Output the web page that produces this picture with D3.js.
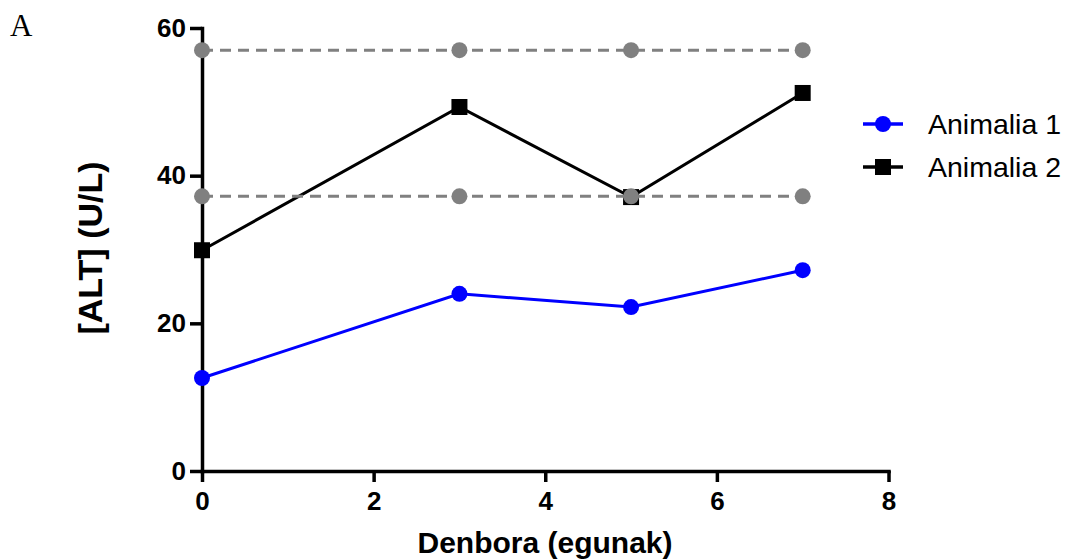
<!DOCTYPE html>
<html>
<head>
<meta charset="utf-8">
<script src="https://cdn.jsdelivr.net/npm/d3@7"></script>
<style>
  body { margin: 0; background: #fff; }
  svg { display: block; }
  .tick text { font-family: "Liberation Sans", Arial, sans-serif; font-weight: bold; font-size: 26px; fill: #000; }
</style>
</head>
<body>
<svg id="chart" width="1069" height="559"></svg>
<script>
// data
const days = [0, 3, 5, 7];
const animal1 = [12.6, 24.0, 22.2, 27.2];
const animal2 = [29.9, 49.3, 37.1, 51.2];
const refHigh = [57, 57, 57, 57];
const refLow = [37.2, 37.2, 37.2, 37.2];
const xTicks = [0, 2, 4, 6, 8];
const yTicks = [0, 20, 40, 60];
const seriesNames = ['Animalia 1', 'Animalia 2'];

const svg = d3.select('#chart');
const margin = { top: 28, left: 202 };
const width = 686.5, height = 443;

const x = d3.scaleLinear().domain([0, 8]).range([0, width]);
const y = d3.scaleLinear().domain([0, 60]).range([height, 0]);

const g = svg.append('g').attr('transform', `translate(${margin.left}, ${margin.top})`);

// panel letter
svg.append('text')
  .attr('x', 10).attr('y', 36)
  .attr('font-family', '"Liberation Serif", "Times New Roman", serif')
  .attr('font-size', 31)
  .text('A');

// axes
const xAxis = g.append('g')
  .attr('transform', `translate(0, ${height})`)
  .call(d3.axisBottom(x).tickValues(xTicks).tickSize(11).tickPadding(10).tickSizeOuter(0));
const yAxis = g.append('g')
  .call(d3.axisLeft(y).tickValues(yTicks).tickSize(12).tickPadding(4).tickSizeOuter(0));

[xAxis, yAxis].forEach((ax) => {
  ax.select('.domain').attr('stroke', '#000').attr('stroke-width', 3.5).attr('stroke-linecap', 'square');
  ax.selectAll('.tick line').attr('stroke', '#000').attr('stroke-width', 3.5);
});

const line = d3.line()
  .x((d, i) => x(days[i]))
  .y((d) => y(d));

// Animalia 1
g.append('path')
  .datum(animal1)
  .attr('fill', 'none')
  .attr('stroke', '#0000ff')
  .attr('stroke-width', 3)
  .attr('d', line);
g.selectAll('.dot1')
  .data(animal1)
  .enter().append('circle')
  .attr('cx', (d, i) => x(days[i]))
  .attr('cy', (d) => y(d))
  .attr('r', 8)
  .attr('fill', '#0000ff');

// Animalia 2
g.append('path')
  .datum(animal2)
  .attr('fill', 'none')
  .attr('stroke', '#000')
  .attr('stroke-width', 3)
  .attr('d', line);
g.selectAll('.sq2')
  .data(animal2)
  .enter().append('rect')
  .attr('x', (d, i) => x(days[i]) - 8)
  .attr('y', (d) => y(d) - 8)
  .attr('width', 16)
  .attr('height', 16)
  .attr('fill', '#000');

// reference range, dashed grey
[refHigh, refLow].forEach((ref) => {
  g.append('path')
    .datum(ref)
    .attr('fill', 'none')
    .attr('stroke', '#808080')
    .attr('stroke-width', 3)
    .attr('stroke-dasharray', '11,7')
    .attr('d', line);
  g.selectAll(null)
    .data(ref)
    .enter().append('circle')
    .attr('cx', (d, i) => x(days[i]))
    .attr('cy', (d) => y(d))
    .attr('r', 8)
    .attr('fill', '#808080');
});

// axis titles
svg.append('text')
  .attr('x', 545)
  .attr('y', 553)
  .attr('text-anchor', 'middle')
  .attr('font-family', '"Liberation Sans", Arial, sans-serif')
  .attr('font-weight', 'bold')
  .attr('font-size', 30)
  .text('Denbora (egunak)');

svg.append('text')
  .attr('transform', 'translate(102, 248) rotate(-90)')
  .attr('text-anchor', 'middle')
  .attr('font-family', '"Liberation Sans", Arial, sans-serif')
  .attr('font-weight', 'bold')
  .attr('font-size', 34)
  .text('[ALT] (U/L)');

// legend
const legend = svg.append('g').attr('transform', 'translate(863, 124)');
const colors = ['#0000ff', '#000'];
seriesNames.forEach((name, i) => {
  const row = legend.append('g').attr('transform', `translate(0, ${i * 43})`);
  row.append('line')
    .attr('x1', 0).attr('x2', 40)
    .attr('stroke', colors[i]).attr('stroke-width', 3.5);
  if (i === 0) {
    row.append('circle').attr('cx', 20).attr('r', 8).attr('fill', colors[i]);
  } else {
    row.append('rect').attr('x', 12).attr('y', -8).attr('width', 16).attr('height', 16).attr('fill', colors[i]);
  }
  row.append('text')
    .attr('x', 65).attr('y', 10)
    .attr('font-family', '"Liberation Sans", Arial, sans-serif')
    .attr('font-size', 28.5)
    .text(name);
});
</script>
</body>
</html>
